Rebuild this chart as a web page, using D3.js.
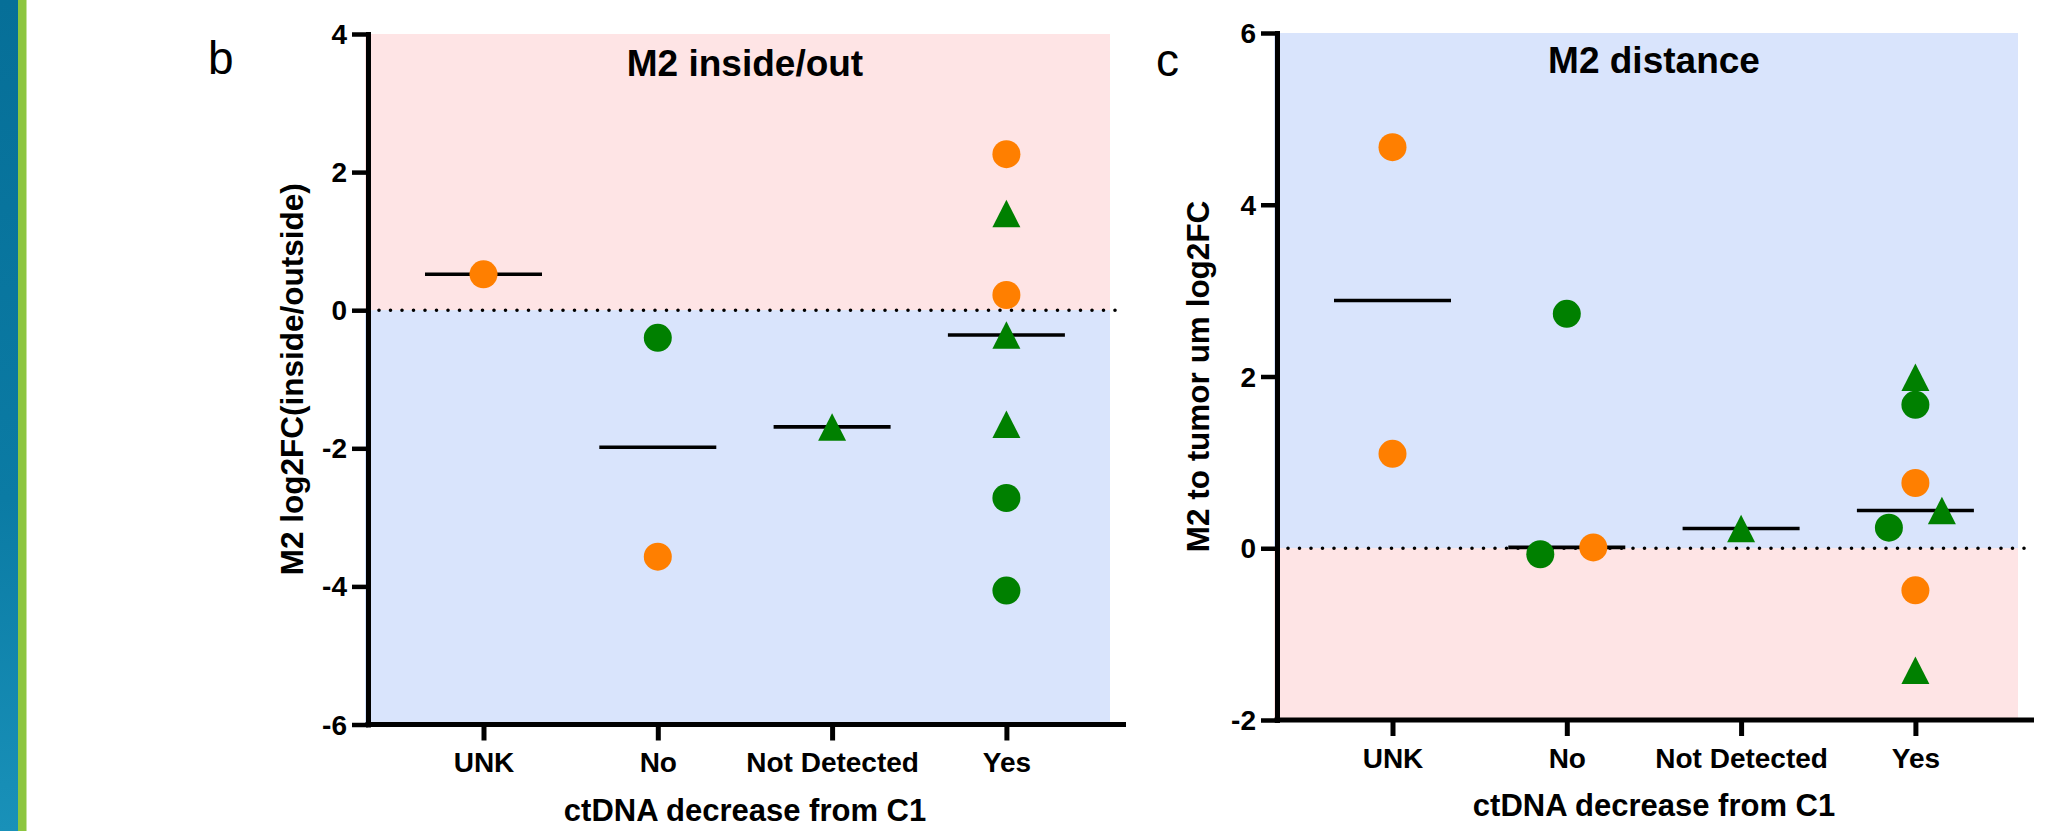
<!DOCTYPE html>
<html>
<head>
<meta charset="utf-8">
<script src="https://cdn.jsdelivr.net/npm/d3@7/dist/d3.min.js"></script>
<style>
  body { margin: 0; background: #fff; }
  svg { display: block; }
  text { font-family: "Liberation Sans", Arial, sans-serif; fill: #000; }
</style>
</head>
<body>
<div id="chart"></div>
<script>
// categories on the x axis
var categories = ["UNK", "No", "Not Detected", "Yes"];

// series: A = orange circle, B = green circle, C = green triangle
var seriesKeys = ["A", "B", "C"];

// panel b - M2 inside/out
var insideCat    = ["UNK", "No", "No", "Not Detected", "Yes", "Yes", "Yes", "Yes", "Yes", "Yes", "Yes"];
var insideSeries = ["A", "B", "A", "C", "A", "C", "A", "C", "C", "B", "B"];
var insideValue  = [0.52, -0.40, -3.57, -1.69, 2.26, 1.40, 0.22, -0.36, -1.65, -2.72, -4.06];
var insideTicks  = [-6, -4, -2, 0, 2, 4];

// panel c - M2 distance
var distCat    = ["UNK", "UNK", "No", "No", "No", "Not Detected", "Yes", "Yes", "Yes", "Yes", "Yes", "Yes", "Yes"];
var distSeries = ["A", "A", "B", "B", "A", "C", "C", "B", "A", "C", "B", "A", "C"];
var distValue  = [4.67, 1.10, 2.73, -0.07, 0.01, 0.23, 1.99, 1.67, 0.76, 0.44, 0.24, -0.49, -1.42];
var distTicks  = [-2, 0, 2, 4, 6];

var W = 2063, H = 831;
var pink = "#fee4e5", blue = "#d9e4fc";
var color = {A: "#ff7f00", B: "#008000", C: "#008000"};
var shape = {A: "circle", B: "circle", C: "triangle"};

var svg = d3.select("#chart").append("svg")
    .attr("width", W)
    .attr("height", H);

// left decoration stripe
var grad = svg.append("defs").append("linearGradient")
    .attr("id", "stripe").attr("x1", 0).attr("y1", 0).attr("x2", 0).attr("y2", 1);
grad.append("stop").attr("offset", "0%").attr("stop-color", "#066f98");
grad.append("stop").attr("offset", "60%").attr("stop-color", "#0b7ba4");
grad.append("stop").attr("offset", "100%").attr("stop-color", "#1991b9");
svg.append("rect").attr("x", 0).attr("y", 0).attr("width", 18).attr("height", H).attr("fill", "url(#stripe)");
svg.append("rect").attr("x", 18).attr("y", 0).attr("width", 8.5).attr("height", H).attr("fill", "#8cc63f");

function drawPanel(opt) {
  var x0 = opt.x0, x1 = opt.x1, y0 = opt.y0, y1 = opt.y1;
  var g = svg.append("g");

  var yScale = d3.scaleLinear().domain(opt.domain).range([y1, y0]);
  var xScale = d3.scalePoint().domain(categories).range([x0 + 115.5, x0 + 115.5 + 3 * 174.3]);

  var pts = opt.cat.map(function(c, i) {
    return {cat: c, series: opt.series[i], value: opt.value[i]};
  });

  // background halves
  g.append("rect")
    .attr("x", x0 - 3).attr("y", y0)
    .attr("width", x1 - x0 + 3).attr("height", yScale(0) - y0)
    .attr("fill", opt.topFill);
  g.append("rect")
    .attr("x", x0 - 3).attr("y", yScale(0))
    .attr("width", x1 - x0 + 3).attr("height", y1 - yScale(0))
    .attr("fill", opt.bottomFill);

  // dotted zero line
  g.append("line")
    .attr("x1", x0 + 11).attr("x2", x1 + 8)
    .attr("y1", yScale(0)).attr("y2", yScale(0))
    .attr("stroke", "#000")
    .attr("stroke-width", 3.6)
    .attr("stroke-linecap", "round")
    .attr("stroke-dasharray", "0,11.5");

  // median lines
  var med = d3.rollups(pts, function(v) { return d3.median(v, function(d) { return d.value; }); }, function(d) { return d.cat; });
  g.selectAll(".median")
    .data(med)
    .enter().append("line")
    .attr("class", "median")
    .attr("x1", function(d) { return xScale(d[0]) - 58.5; })
    .attr("x2", function(d) { return xScale(d[0]) + 58.5; })
    .attr("y1", function(d) { return yScale(d[1]); })
    .attr("y2", function(d) { return yScale(d[1]); })
    .attr("stroke", "#000")
    .attr("stroke-width", 3.6);

  // spread overlapping points sideways (like a scatter dot plot)
  categories.forEach(function(c) {
    var list = pts.filter(function(d) { return d.cat == c; })
      .sort(function(a, b) { return a.value - b.value; });
    var clusters = [];
    list.forEach(function(d) {
      var last = clusters[clusters.length - 1];
      if (last && Math.abs(yScale(last[last.length - 1].value) - yScale(d.value)) < 26) last.push(d);
      else clusters.push([d]);
    });
    clusters.forEach(function(cl) {
      cl.forEach(function(d, k) {
        d.px = xScale(c) + (k - (cl.length - 1) / 2) * 53;
      });
    });
  });

  g.selectAll(".dot")
    .data(pts.filter(function(d) { return shape[d.series] == "circle"; }))
    .enter().append("circle")
    .attr("class", "dot")
    .attr("cx", function(d) { return d.px; })
    .attr("cy", function(d) { return yScale(d.value); })
    .attr("r", 14)
    .attr("fill", function(d) { return color[d.series]; });

  g.selectAll(".tri")
    .data(pts.filter(function(d) { return shape[d.series] == "triangle"; }))
    .enter().append("path")
    .attr("class", "tri")
    .attr("d", function(d) {
      var cx = d.px, cy = yScale(d.value), w = 28, h = 27.5;
      return "M" + cx + "," + (cy - h / 2) + "L" + (cx + w / 2) + "," + (cy + h / 2) +
             "L" + (cx - w / 2) + "," + (cy + h / 2) + "Z";
    })
    .attr("fill", function(d) { return color[d.series]; });

  // y axis (plain hyphen minus, as in the original)
  var yAxis = d3.axisLeft(yScale)
    .tickValues(opt.ticks)
    .tickFormat(function(d) { return String(d); })
    .tickSize(16)
    .tickSizeOuter(0)
    .tickPadding(5);
  var ya = g.append("g")
    .attr("transform", "translate(" + x0 + ",0)")
    .call(yAxis);
  ya.select(".domain").attr("stroke-width", 5).attr("stroke-linecap", "square");
  ya.selectAll(".tick line").attr("stroke-width", 4.5);
  ya.selectAll(".tick text")
    .style("font-size", "28px").style("font-weight", "bold")
    .attr("dy", "0.34em");

  // x axis line, then category ticks
  g.append("line")
    .attr("x1", x0 - 2.5).attr("x2", x1 + 16)
    .attr("y1", y1).attr("y2", y1)
    .attr("stroke", "#000").attr("stroke-width", 5);
  var xAxis = d3.axisBottom(xScale).tickSize(16).tickSizeOuter(0).tickPadding(12);
  var xa = g.append("g")
    .attr("transform", "translate(0," + y1 + ")")
    .call(xAxis);
  xa.select(".domain").remove();
  xa.selectAll(".tick line").attr("stroke-width", 5);
  xa.selectAll(".tick text")
    .style("font-size", "28px").style("font-weight", "bold");
  ya.attr("font-family", null);
  xa.attr("font-family", null);

  // title
  g.append("text")
    .attr("x", opt.titleX).attr("y", opt.titleY)
    .attr("text-anchor", "middle")
    .style("font-size", "37px").style("font-weight", "bold")
    .text(opt.title);

  // panel letter
  g.append("text")
    .attr("x", opt.letterX).attr("y", opt.letterY)
    .style("font-size", "46px")
    .text(opt.letter);

  // y axis title
  g.append("text")
    .attr("transform", "translate(" + opt.yLabelX + "," + ((y0 + y1) / 2) + ") rotate(-90)")
    .attr("text-anchor", "middle")
    .style("font-size", "31.5px").style("font-weight", "bold")
    .text(opt.yLabel);

  // x axis title
  g.append("text")
    .attr("x", opt.titleX).attr("y", y1 + 96)
    .attr("text-anchor", "middle")
    .style("font-size", "31px").style("font-weight", "bold")
    .text("ctDNA decrease from C1");
}

drawPanel({
  x0: 368, x1: 1110, y0: 34, y1: 724.5,
  domain: [-6, 4], ticks: insideTicks,
  cat: insideCat, series: insideSeries, value: insideValue,
  topFill: pink, bottomFill: blue,
  title: "M2 inside/out", titleX: 745, titleY: 76,
  letter: "b", letterX: 208, letterY: 74,
  yLabel: "M2 log2FC(inside/outside)", yLabelX: 303
});

drawPanel({
  x0: 1277, x1: 2018, y0: 33, y1: 720,
  domain: [-2, 6], ticks: distTicks,
  cat: distCat, series: distSeries, value: distValue,
  topFill: blue, bottomFill: pink,
  title: "M2 distance", titleX: 1654, titleY: 73,
  letter: "c", letterX: 1156, letterY: 76,
  yLabel: "M2 to tumor um log2FC", yLabelX: 1209
});
</script>
</body>
</html>
